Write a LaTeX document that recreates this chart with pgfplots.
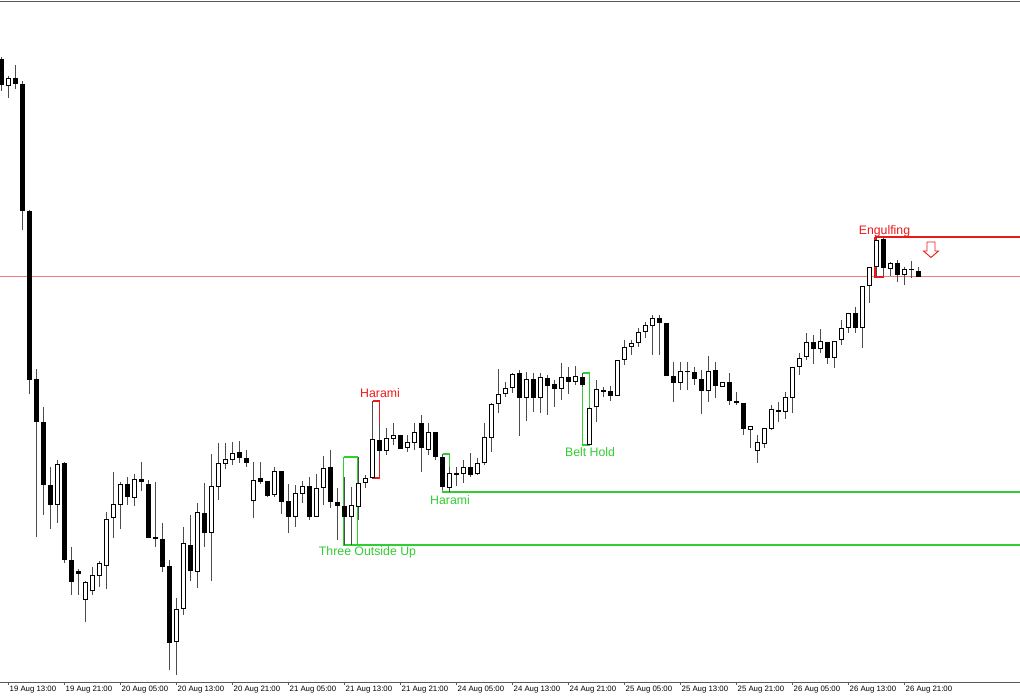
\documentclass[border=0pt]{standalone}
\usepackage{pgfplots}
\pgfplotsset{compat=1.18}
\usepackage{pgfplotstable}
\usepackage{fontspec}
\setmainfont{Liberation Sans}
\definecolor{mtgreen}{RGB}{50,205,50}
\definecolor{mtred}{RGB}{235,25,25}
\definecolor{lightred}{RGB}{236,125,125}

% hourly candles, y read in screen pixels (top = small)
\pgfplotstableread{
k o h l c
0 59 57 91 85
1 86 76 98 78
2 78 65 89 84
3 84 81 230 211
4 211 210 394 380
5 379 369 537 422
6 422 407 515 485
7 485 467 529 505
8 505 460 523 464
9 463 462 563 560
10 560 547 595 582
11 571 569 595 574
12 600 581 622 582
13 591 567 595 575
14 576 561 587 563
15 566 512 589 519
16 518 472 538 504
17 505 482 529 484
18 484 477 505 497
19 498 474 506 479
20 479 462 491 482
21 484 480 538 538
22 537 482 547 539
23 539 523 572 567
24 566 560 670 643
25 642 598 675 609
26 609 527 615 543
27 545 515 581 571
28 572 503 588 512
29 513 483 547 533
30 533 454 581 486
31 487 443 500 463
32 464 443 469 459
33 460 442 465 453
34 452 441 463 458
35 458 450 467 463
36 501 462 518 480
37 478 462 484 482
38 481 481 497 496
39 495 467 497 471
40 471 471 514 502
41 501 484 533 517
42 517 485 527 493
43 494 481 503 486
44 486 477 520 517
45 517 474 517 488
46 488 456 505 468
47 467 450 508 502
48 502 488 540 506
49 506 477 545 517
50 517 487 545 505
51 507 457 520 483
52 483 475 488 478
53 478 401 478 439
54 440 423 457 451
55 451 428 455 438
56 439 423 445 435
57 435 435 449 449
58 448 435 452 442
59 443 423 450 432
60 423 415 472 448
61 450 423 455 432
62 432 432 460 457
63 457 454 490 487
64 488 467 492 473
65 473 467 486 475
66 474 460 483 467
67 467 453 477 475
68 474 458 475 463
69 463 423 465 437
70 438 403 452 404
71 404 369 413 394
72 394 382 397 388
73 388 373 393 374
74 373 370 436 398
75 398 372 421 379
76 379 373 412 398
77 398 373 413 377
78 378 375 415 386
79 384 380 407 389
80 389 363 400 377
81 377 367 394 382
82 382 366 385 376
83 377 373 387 385
84 445 407 445 408
85 407 380 422 389
86 390 387 397 392
87 391 386 401 396
88 396 360 396 360
89 360 340 365 347
90 347 340 355 343
91 343 328 347 332
92 332 322 338 325
93 326 315 355 318
94 318 315 355 323
95 323 323 376 376
96 376 362 402 383
97 383 362 390 371
98 371 362 390 372
99 372 367 385 379
100 379 370 414 391
101 391 356 402 371
102 370 362 398 386
103 387 382 387 382
104 382 373 405 401
105 401 392 405 403
106 403 403 435 429
107 430 426 448 426
108 451 435 463 442
109 444 428 448 428
110 429 405 430 409
111 410 402 422 412
112 412 392 419 397
113 398 367 413 367
114 367 353 375 358
115 357 333 360 342
116 342 335 364 349
117 349 329 353 341
118 342 342 364 358
119 358 341 368 341
120 340 320 345 328
121 328 313 333 313
122 313 307 333 328
123 328 286 348 286
124 286 267 303 267
125 267 237 277 240
126 239 237 276 268
127 269 262 276 263
128 263 260 282 275
129 275 267 285 269
130 269 261 278 270
131 271 267 277 277
}\candles

\begin{document}
\begin{tikzpicture}
\useasboundingbox (0,-18pt) rectangle (1020pt,682pt);
\begin{axis}[
  scale only axis,
  width=1020pt, height=680pt,
  xmin=0, xmax=1020,
  ymin=2, ymax=682,
  y dir=reverse,
  axis x line=box, axis y line=none,
  axis line style={black!65, line width=1pt},
  ytick=\empty,
  xtick={8.5,64.5,...,904.5},
  xticklabels={19 Aug 13:00,19 Aug 21:00,20 Aug 05:00,20 Aug 13:00,20 Aug 21:00,21 Aug 05:00,21 Aug 13:00,21 Aug 21:00,24 Aug 05:00,24 Aug 13:00,24 Aug 21:00,25 Aug 05:00,25 Aug 13:00,25 Aug 21:00,26 Aug 05:00,26 Aug 13:00,26 Aug 21:00},
  xtick pos=left,
  tick align=outside,
  major tick length=3pt,
  xtick style={black!65, line width=0.8pt},
  xticklabel style={anchor=north west, inner sep=0pt, xshift=1pt, yshift=-0.5pt, font=\fontsize{7.8}{8}\selectfont},
  clip=false,
]
% support / resistance lines
\addplot[lightred, line width=1.1pt] coordinates {(0,276.7) (1020,276.7)};
\addplot[mtgreen, line width=1.6pt] coordinates {(343.5,545) (1020,545)};
\addplot[mtgreen, line width=1.6pt] coordinates {(442.5,492) (1020,492)};
\addplot[mtred, line width=2pt] coordinates {(875,237) (1020,237)};

% pattern boxes
\addplot[mtgreen, line width=1.5pt] coordinates {(343.5,457) (357.5,457) (357.5,545) (343.5,545) (343.5,457)};
\addplot[mtred, line width=1.3pt] coordinates {(372.5,401) (379.5,401) (379.5,478) (372.5,478) (372.5,401)};
\addplot[mtgreen, line width=1.3pt] coordinates {(442.5,454) (449.5,454) (449.5,492) (442.5,492) (442.5,454)};
\addplot[mtgreen, line width=1.3pt] coordinates {(582.5,373) (589.5,373) (589.5,445) (582.5,445) (582.5,373)};
\addplot[mtred, line width=1.3pt] coordinates {(875,237) (883.5,237) (883.5,277) (875,277) (875,237)};

% wicks
\addplot[draw=none, mark=none, forget plot,
  error bars/.cd, y dir=plus, y explicit, error mark=none,
  error bar style={draw=black!70, line width=1pt}]
  table[x expr=1.5+7*\thisrow{k}, y=h, y error expr=\thisrow{l}-\thisrow{h}] {\candles};
% bodies (outline / solid)
\addplot[draw=none, mark=none, forget plot,
  error bars/.cd, y dir=plus, y explicit, error mark=none,
  error bar style={draw=black, line width=5pt}]
  table[x expr=1.5+7*\thisrow{k}, y expr={min(\thisrow{o},\thisrow{c})},
        y error expr={max(abs(\thisrow{c}-\thisrow{o}),1)}] {\candles};
% hollow inside of rising candles
\addplot[draw=none, mark=none, forget plot,
  y filter/.expression={\thisrow{c}<\thisrow{o}-2 ? y : nan},
  error bars/.cd, y dir=plus, y explicit, error mark=none,
  error bar style={draw=white, line width=3pt}]
  table[x expr=1.5+7*\thisrow{k}, y expr={\thisrow{c}+1},
        y error expr={\thisrow{o}-\thisrow{c}-2}] {\candles};

% sell arrow
\addplot[mtred, line width=0.9pt] coordinates {(927,242) (935,242) (935,251) (938.5,251) (931,257.5) (923.5,251) (927,251) (927,242)};

% labels
\node[mtred, font=\fontsize{12.3}{13}\selectfont] at (axis cs:380,393) {Harami};
\node[mtgreen, font=\fontsize{12.3}{13}\selectfont] at (axis cs:367.5,552) {Three Outside Up};
\node[mtgreen, font=\fontsize{12.3}{13}\selectfont] at (axis cs:450,500) {Harami};
\node[mtgreen, font=\fontsize{12.3}{13}\selectfont] at (axis cs:590,452) {Belt Hold};
\node[mtred, font=\fontsize{12.3}{13}\selectfont] at (axis cs:884.5,231) {Engulfing};
\end{axis}
\end{tikzpicture}
\end{document}
